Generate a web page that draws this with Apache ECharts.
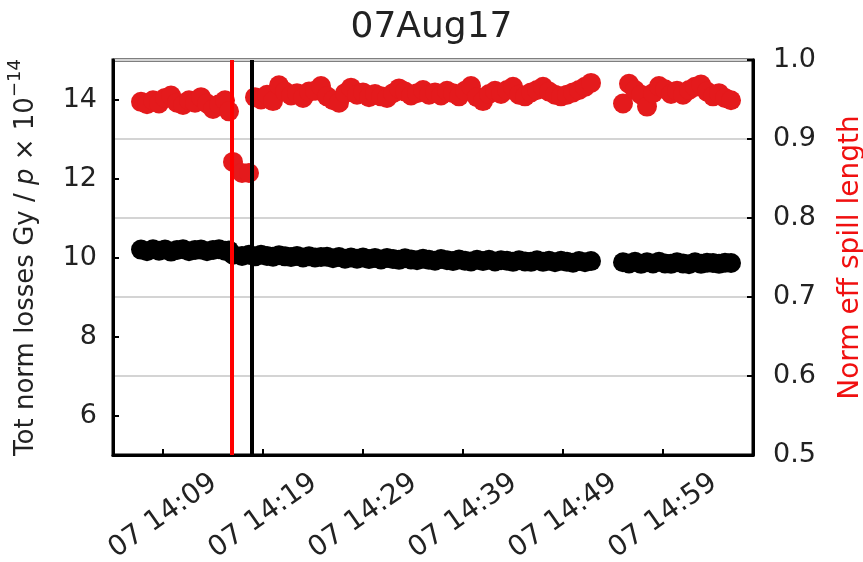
<!DOCTYPE html>
<html>
<head>
<meta charset="utf-8">
<script src="https://cdn.jsdelivr.net/npm/echarts@6/dist/echarts.min.js"></script>
<style>
html,body{margin:0;padding:0;background:#fff;}
#chart{width:863px;height:562px;}
</style>
</head>
<body>
<div id="chart"></div>
<script>
// spill times, minutes after 14:00 on 07 Aug 2017
const times = [
  6.8, 7.4, 8.0, 8.6, 9.2, 9.8, 10.4, 11.0, 11.6, 12.2,
  12.8, 13.4, 14.0, 14.6, 15.2, 15.6, 16.0, 16.9, 17.6, 18.2,
  18.8, 19.4, 20.0, 20.6, 21.2, 21.8, 22.4, 23.0, 23.6, 24.2,
  24.8, 25.4, 26.0, 26.6, 27.2, 27.8, 28.4, 29.0, 29.6, 30.2,
  30.8, 31.4, 32.0, 32.6, 33.2, 33.8, 34.4, 35.0, 35.6, 36.2,
  36.8, 37.4, 38.0, 38.6, 39.2, 39.8, 40.4, 41.0, 41.6, 42.2,
  42.8, 43.4, 44.0, 44.6, 45.2, 45.8, 46.4, 47.0, 47.6, 48.2,
  48.8, 49.4, 50.0, 50.6, 51.2, 51.8,
  55.0, 55.6, 56.2, 56.8, 57.4, 58.0, 58.6, 59.2, 59.8, 60.4,
  61.0, 61.6, 62.2, 62.8, 63.4, 64.0, 64.6, 65.2, 65.8
];
// Tot norm losses Gy / p x 1e-14 (left axis)
const losses = [
  10.20, 10.16, 10.21, 10.17, 10.20, 10.15, 10.19, 10.21, 10.16, 10.19,
  10.20, 10.16, 10.19, 10.21, 10.17, 10.18, 10.07, 10.04, 10.07, 10.03,
  10.07, 10.04, 10.02, 10.06, 10.03, 10.01, 10.04, 10.00, 10.03, 10.00,
  10.01, 10.02, 9.98, 10.01, 9.97, 10.00, 9.97, 10.00, 9.96, 9.99,
  9.95, 9.99, 9.96, 9.94, 9.98, 9.95, 9.93, 9.97, 9.94, 9.92,
  9.96, 9.93, 9.91, 9.95, 9.92, 9.90, 9.94, 9.91, 9.94, 9.90,
  9.93, 9.92, 9.89, 9.93, 9.90, 9.89, 9.93, 9.89, 9.92, 9.88,
  9.92, 9.89, 9.87, 9.91, 9.88, 9.91,
  9.88, 9.85, 9.89, 9.84, 9.88, 9.85, 9.89, 9.85, 9.84, 9.88,
  9.85, 9.83, 9.88, 9.84, 9.87, 9.86, 9.84, 9.87, 9.86
];
// Norm eff spill length (right axis)
const spill = [
  0.947, 0.944, 0.949, 0.945, 0.952, 0.955, 0.946, 0.943, 0.949, 0.946,
  0.953, 0.945, 0.938, 0.944, 0.949, 0.935, 0.871, 0.857, 0.857, 0.953,
  0.950, 0.956, 0.948, 0.968, 0.960, 0.955, 0.958, 0.952, 0.960, 0.961,
  0.967, 0.954, 0.949, 0.946, 0.958, 0.965, 0.956, 0.959, 0.953, 0.957,
  0.954, 0.952, 0.958, 0.964, 0.960, 0.955, 0.958, 0.962, 0.956, 0.959,
  0.955, 0.961, 0.958, 0.954, 0.961, 0.967, 0.953, 0.948, 0.957, 0.961,
  0.957, 0.962, 0.966, 0.956, 0.954, 0.959, 0.962, 0.966, 0.960, 0.956,
  0.954, 0.956, 0.959, 0.962, 0.966, 0.971,
  0.945, 0.970, 0.962, 0.956, 0.941, 0.958, 0.967, 0.963, 0.957, 0.961,
  0.956, 0.962, 0.966, 0.969, 0.960, 0.954, 0.958, 0.952, 0.949
];
// x tick positions (minutes after 14:00)
const xTicks = [9, 19, 29, 39, 49, 59];
const leftTicks = [6, 8, 10, 12, 14];
// vertical marker lines (minutes after 14:00)
const redLineTime = [15.9];
const blackLineTime = [17.9];

const FONT = 'DejaVu Sans';
const lossData = times.map((t, i) => [t, losses[i]]);
const spillData = times.map((t, i) => [t, spill[i]]);

const chart = echarts.init(document.getElementById('chart'));
chart.setOption({
  animation: false,
  backgroundColor: '#fff',
  title: {
    text: '07Aug17',
    left: 'center',
    top: 5,
    textStyle: { fontFamily: FONT, fontSize: 36, fontWeight: 'normal', color: '#222' }
  },
  grid: {
    left: 113, right: 110, top: 60, bottom: 107,
    outerBoundsMode: 'none',
    containLabel: false,
    show: true, borderColor: '#000', borderWidth: 3, backgroundColor: 'transparent'
  },
  xAxis: {
    type: 'value',
    min: 4, max: 68,
    axisLine: { show: true, lineStyle: { color: '#000', width: 3 } },
    axisTick: { show: true, inside: true, length: 6, lineStyle: { color: '#000', width: 2 }, customValues: xTicks },
    axisLabel: {
      customValues: xTicks,
      rotate: 35,
      align: 'center',
      verticalAlign: 'middle',
      margin: 61,
      fontFamily: FONT, fontSize: 28, color: '#222',
      formatter: v => '07 14:' + String(Math.round(v)).padStart(2, '0')
    },
    splitLine: { show: false }
  },
  yAxis: [
    {
      type: 'value',
      position: 'left',
      min: 5, max: 15,
      axisLine: { show: true, lineStyle: { color: '#000', width: 3 } },
      axisTick: { show: true, inside: true, length: 6, lineStyle: { color: '#000', width: 2 }, customValues: leftTicks },
      axisLabel: { customValues: leftTicks, margin: 16, fontFamily: FONT, fontSize: 27, color: '#222' },
      splitLine: { show: false },
      name: 'Tot norm losses Gy / {it|p} × 10{sup|−14}',
      nameLocation: 'middle',
      nameRotate: 90,
      nameGap: 67,
      nameTextStyle: {
        fontFamily: FONT, fontSize: 26, color: '#222', lineHeight: 40,
        rich: {
          it: { fontFamily: FONT, fontSize: 26, fontStyle: 'italic', color: '#222', lineHeight: 40 },
          sup: { fontFamily: FONT, fontSize: 18, color: '#222', verticalAlign: 'top', lineHeight: 18 }
        }
      }
    },
    {
      type: 'value',
      position: 'right',
      min: 0.5, max: 1.0, interval: 0.1,
      axisLine: { show: true, lineStyle: { color: '#000', width: 3 } },
      axisTick: { show: true, inside: true, length: 6, lineStyle: { color: '#000', width: 2 } },
      axisLabel: { margin: 20, fontFamily: FONT, fontSize: 27, color: '#222', formatter: v => v.toFixed(1) },
      splitLine: { show: true, lineStyle: { color: '#d4d4d4', width: 2 } },
      name: 'Norm eff spill length',
      nameLocation: 'middle',
      nameRotate: 90,
      nameGap: 84,
      nameTextStyle: { fontFamily: FONT, fontSize: 28, color: '#f01010' }
    }
  ],
  series: [
    {
      type: 'scatter',
      name: 'losses',
      yAxisIndex: 0,
      data: lossData,
      symbol: 'circle',
      symbolSize: 20,
      itemStyle: { color: '#000', opacity: 1 },
      z: 2
    },
    {
      type: 'scatter',
      name: 'spill',
      yAxisIndex: 1,
      data: spillData,
      symbol: 'circle',
      symbolSize: 20,
      itemStyle: { color: '#e41a1c', opacity: 1 },
      z: 3
    },
    {
      type: 'line',
      name: 'markers',
      yAxisIndex: 0,
      data: [],
      z: 10,
      markLine: {
        silent: true,
        symbol: ['none', 'none'],
        label: { show: false },
        z: 10,
        data: [
          { xAxis: redLineTime[0], lineStyle: { color: '#ff0000', width: 4, type: 'solid' } },
          { xAxis: blackLineTime[0], lineStyle: { color: '#000', width: 4, type: 'solid' } }
        ]
      }
    }
  ]
});
</script>
</body>
</html>
